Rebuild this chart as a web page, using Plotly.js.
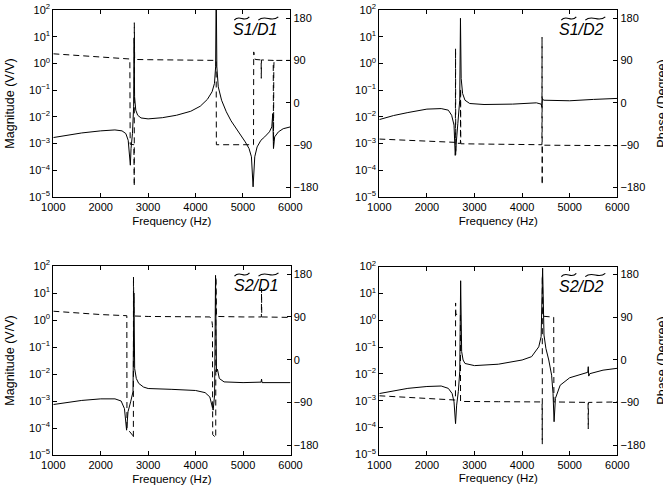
<!DOCTYPE html>
<html>
<head>
<meta charset="utf-8">
<script src="https://cdn.plot.ly/plotly-3.0.1.min.js"></script>
<style>html,body{margin:0;padding:0;background:#fff;overflow:hidden;}#wrap{width:663px;height:493px;overflow:hidden;}#chart{width:676px;height:493px;}</style>
</head>
<body>
<div id="wrap"><div id="chart"></div></div>
<script>
// ---- tick labels ----
const freqTicks = [1000, 2000, 3000, 4000, 5000, 6000];
const magTickVals = [1e-5, 1e-4, 1e-3, 1e-2, 1e-1, 1, 10, 100];
const magTickText = ['10<sup>\u22125</sup>', '10<sup>\u22124</sup>', '10<sup>\u22123</sup>', '10<sup>\u22122</sup>',
                     '10<sup>\u22121</sup>', '10<sup>0</sup>', '10<sup>1</sup>', '10<sup>2</sup>'];
const phaseTicks = [-180, -90, 0, 90, 180];

// ---- S1/D1 ----
const freqS1D1Mag = [1000,1300,1600,2000,2300,2450,2530,2580,2610,2625,2640,2670,2695,2705,2715,2740,2780,2850,3000,3300,3600,3900,4100,4250,4350,4400,4425,4437,4450,4480,4550,4650,4750,4850,4950,5050,5130,5180,5215,5250,5300,5380,5460,5560,5610,5630,5645,5670,5750,5850,6000];
const magS1D1 = [1.68e-3,2.04e-3,2.5e-3,2.99e-3,3.24e-3,2.99e-3,2.37e-3,1.33e-3,4.2e-4,1.55e-4,6.5e-4,2.37e-3,2.37e-2,8.9,5.6e-2,1.78e-2,1.15e-2,9.1e-3,8.4e-3,9.3e-3,1.15e-2,1.62e-2,2.5e-2,4.5e-2,8.7e-2,0.178,0.75,1000,0.75,0.133,4.2e-2,1.55e-2,7.1e-3,3.9e-3,2.04e-3,1.15e-3,6.5e-4,3.2e-4,2.4e-5,3.2e-4,7.5e-4,1.33e-3,1.78e-3,2.75e-3,4.2e-3,1.33e-2,6.5e-4,1.78e-3,2.75e-3,3.6e-3,4.2e-3];
const freqS1D1Ph = [1000,1500,2000,2500,2615,2622,2700,2708,2709,2716,3000,3500,4000,4436,4440,5000,5224,5228,5260,5385,5388,5391,5640,5646,5652,5658,6000];
const phaseS1D1 = [104,101,98,95,93,-88,-89,-177,170,92,91.5,91,90.5,90,-89,-89,-89,108,92,91,52,91,90,-93,76,90,90];

// ---- S1/D2 ----
const freqS1D2Mag = [1000,1300,1600,2000,2300,2450,2520,2570,2595,2615,2650,2690,2705,2720,2750,2800,2900,3200,3800,4300,4400,4415,4425,4450,5000,5500,6000];
const magS1D2 = [7.9e-3,1.12e-2,1.45e-2,1.95e-2,2.04e-2,1.78e-2,1.15e-2,4.9e-3,3.6e-4,1.33e-3,5.6e-3,4.2e-2,49,0.275,7.5e-2,4.2e-2,3.16e-2,2.9e-2,3.0e-2,3.35e-2,3.0e-2,2.37e-2,4.9e-2,4.2e-2,4.0e-2,4.5e-2,4.9e-2];
const freqS1D2Ph = [1000,2000,2598,2602,2606,2610,2705,2708,2712,3500,4417,4419,4422,4425,6000];
const phaseS1D2 = [-77,-81,-84,115,-111,-86,-86,30,-87,-88,-89,139,-174,-90,-91];

// ---- S2/D1 ----
const freqS2D1Mag = [1000,1300,1600,2000,2300,2430,2500,2545,2575,2630,2680,2700,2715,2750,2800,2900,3000,3500,4000,4200,4300,4360,4370,4400,4420,4440,4460,4500,4600,5000,5380,5390,5400,6000];
const magS2D1 = [7.4e-4,8.7e-4,1.05e-3,1.2e-3,1.2e-3,1.0e-3,5.2e-4,8.3e-5,4.0e-4,9.3e-4,2.2e-3,10,1.58e-2,6.8e-3,4.5e-3,3.3e-3,2.9e-3,2.7e-3,2.45e-3,2.04e-3,1.41e-3,5.2e-4,4.6e-4,1.66e-3,45,1.2e-2,1.5e-2,6.8e-3,5.1e-3,4.8e-3,5.0e-3,6.5e-3,4.8e-3,4.8e-3];
const freqS2D1Ph = [1000,1500,2000,2550,2553,2684,2688,2690,2700,3000,4000,4300,4340,4355,4360,4424,4427,4429,4440,5000,5386,5390,5394,6000];
const phaseS2D1 = [102,98,95,92.6,-144,-160,-165,174,92,91,90.5,90,85,72,-157,-164,174,120,91,90,90,150,90,89];

// ---- S2/D2 ----
const freqS2D2Mag = [1000,1300,1600,2000,2300,2450,2530,2570,2602,2625,2660,2690,2709,2730,2760,2800,3000,3500,4000,4200,4350,4400,4431,4460,4500,4560,4620,4650,4672,4700,4800,5000,5300,5380,5390,5400,5420,5700,6000];
const magS2D2 = [1.86e-3,2.34e-3,2.9e-3,3.4e-3,3.55e-3,2.9e-3,1.86e-3,9.1e-4,1.41e-4,6.9e-4,2.2e-3,1.2e-2,29.5,6.8e-2,3.3e-2,2.45e-2,2.04e-2,2.3e-2,3.3e-2,4.4e-2,0.102,0.245,87,0.28,8.9e-2,3.3e-2,9e-3,1.86e-3,1.66e-4,1.23e-3,3.8e-3,7.2e-3,1.05e-2,1.15e-2,1.86e-2,8.3e-3,1.02e-2,1.38e-2,1.62e-2];
const freqS2D2Ph = [1000,2000,2600,2603,2608,2704,2707,3500,4420,4424,4425,4440,4664,4668,5386,5390,5394,6000];
const phaseS2D2 = [-76,-81,-85,120,96,96,-88,-88.5,-89,-178,178,92,90,-89,-90,-146,-90,-89];

const panelLabels = [['S1', 'D1'], ['S1', 'D2'], ['S2', 'D1'], ['S2', 'D2']];

// ---- layout geometry (pixels); figure slightly wider than the window so the
// right-hand axis title is cut at the window edge as in the reference ----
const W = 676, H = 493;
const panels = [
  {L: 53.3, R: 290.3, T: 10, B: 197},
  {L: 379.3, R: 617.3, T: 10, B: 197},
  {L: 53.3, R: 290.5, T: 266, B: 455},
  {L: 379.3, R: 617.3, T: 266.5, B: 454.5}
];
const px = x => x / W;
const py = y => 1 - y / H;

const FONT = 'Liberation Sans, Arial, Helvetica, sans-serif';
const series = [
  [freqS1D1Mag, magS1D1, freqS1D1Ph, phaseS1D1],
  [freqS1D2Mag, magS1D2, freqS1D2Ph, phaseS1D2],
  [freqS2D1Mag, magS2D1, freqS2D1Ph, phaseS2D1],
  [freqS2D2Mag, magS2D2, freqS2D2Ph, phaseS2D2]
];

const data = [];
const layout = {
  width: W, height: H,
  margin: {l: 0, r: 0, t: 0, b: 0},
  paper_bgcolor: '#fff', plot_bgcolor: '#fff',
  showlegend: false,
  font: {family: FONT, size: 11, color: '#000'},
  annotations: [], shapes: []
};

series.forEach((s, i) => {
  const p = panels[i];
  const xk = i === 0 ? 'x' : 'x' + (i + 1);
  const ymk = i === 0 ? 'y' : 'y' + (2 * i + 1);
  const ypk = 'y' + (2 * i + 2);
  const xName = i === 0 ? 'xaxis' : 'xaxis' + (i + 1);
  const ymName = i === 0 ? 'yaxis' : 'yaxis' + (2 * i + 1);
  const ypName = 'yaxis' + (2 * i + 2);

  data.push({x: s[0], y: s[1], xaxis: xk, yaxis: ymk, type: 'scatter', mode: 'lines',
             line: {color: '#000', width: 1}, hoverinfo: 'skip'});
  data.push({x: s[2], y: s[3], xaxis: xk, yaxis: ypk, type: 'scatter', mode: 'lines',
             line: {color: '#000', width: 1, dash: '6px,4px'}, hoverinfo: 'skip'});

  layout[xName] = {
    domain: [px(p.L), px(p.R)], anchor: ymk, range: [1000, 6000],
    tickvals: freqTicks, ticks: 'inside', ticklen: 4, tickcolor: '#000',
    showline: true, linecolor: '#000', linewidth: 1, mirror: 'ticks',
    showgrid: false, zeroline: false, tickfont: {family: FONT, size: 11, color: '#000'},
    title: {text: 'Frequency (Hz)', font: {family: FONT, size: 11.5, color: '#000'}, standoff: 4}
  };
  layout[ymName] = {
    domain: [py(p.B), py(p.T)], anchor: xk, type: 'log', range: [-5, 2],
    tickvals: magTickVals, ticktext: magTickText, ticks: 'inside', ticklen: 4, tickcolor: '#000',
    showline: true, linecolor: '#000', linewidth: 1,
    showgrid: false, zeroline: false, tickfont: {family: FONT, size: 11, color: '#000'},
    title: (i % 2 === 0) ? {text: 'Magnitude (V/V)', font: {family: FONT, size: 12.5, color: '#000'}, standoff: 11} : {text: ''}
  };
  layout[ypName] = {
    overlaying: ymk, anchor: xk, side: 'right', range: [-200, 197],
    tickvals: phaseTicks, ticks: 'inside', ticklen: 4, tickcolor: '#000',
    showline: true, linecolor: '#000', linewidth: 1,
    showgrid: false, zeroline: false, tickfont: {family: FONT, size: 11, color: '#000'},
    title: (i % 2 === 1) ? {text: 'Phase (Degree)', font: {family: FONT, size: 12.5, color: '#000'}, standoff: 12} : {text: ''}
  };

  // panel label with wide tildes
  const E = p.R - 12;
  const lab = panelLabels[i];
  layout.annotations.push({
    xref: 'paper', yref: 'paper', x: px(E + 1), y: py(p.T + 19.5),
    xanchor: 'right', yanchor: 'middle', showarrow: false,
    text: '<i>' + lab[0] + '/' + lab[1] + '</i>',
    font: {family: FONT, size: 16, color: '#000'}
  });
  const tilde = (x0, x1, yt, yb) => {
    const w = x1 - x0, h = yb - yt;
    return 'M' + px(x0) + ',' + py(yb) +
      ' C' + px(x0 + 0.35 * w) + ',' + py(yt - 0.9 * h) +
      ' ' + px(x0 + 0.65 * w) + ',' + py(yb + 0.9 * h) +
      ' ' + px(x1) + ',' + py(yt);
  };
  [[E - 44, E - 29], [E - 20, E]].forEach(seg => {
    layout.shapes.push({type: 'path', xref: 'paper', yref: 'paper',
      path: tilde(seg[0], seg[1], p.T + 6.8, p.T + 10.2),
      line: {color: '#000', width: 1.1}});
  });
});

Plotly.newPlot('chart', data, layout, {staticPlot: true, displayModeBar: false});
</script>
</body>
</html>
